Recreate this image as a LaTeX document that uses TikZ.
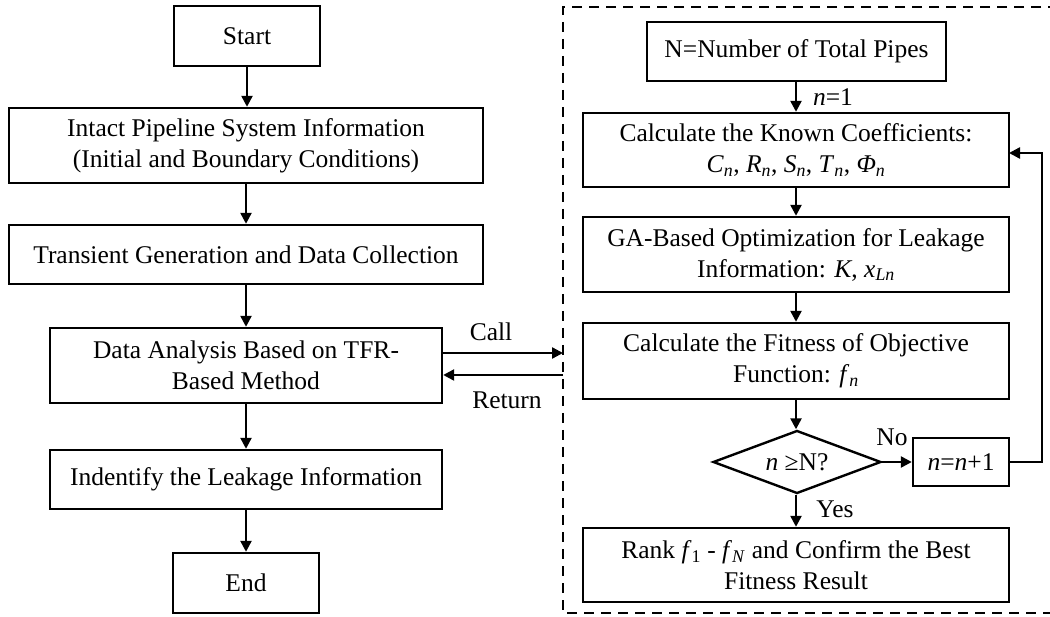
\documentclass[tikz,border=0pt]{standalone}
\usepackage{fontspec}
\setmainfont{Liberation Serif}
\usetikzlibrary{shapes.geometric,arrows.meta}
\newcommand{\subi}[1]{\textsubscript{\textit{#1}}}
\tikzset{
  arr/.style={line width=2.4pt,-{Triangle[length=11pt,width=11pt]}},
  box/.style={draw,line width=2.4pt,rectangle,align=center,inner sep=0pt,
    font=\fontsize{25.5}{31}\selectfont},
  lbl/.style={inner sep=0pt,font=\fontsize{25.5}{31}\selectfont},
  frame/.style={line width=2.6pt,dash pattern=on 10pt off 7pt},
}
\begin{document}
\begin{tikzpicture}[x=1pt,y=-1pt]
\useasboundingbox (0,0) rectangle (1050,617);

% main procedure
\node[box,minimum width=146pt,minimum height=60pt] (start) at (247,36) {Start};
\node[box,minimum width=474pt,minimum height=75pt] (intact) at (246,145.5)
  {Intact Pipeline System Information\\(Initial and Boundary Conditions)};
\node[box,minimum width=474pt,minimum height=59pt] (trans) at (246,254.5)
  {Transient Generation and Data Collection};
\node[box,minimum width=392pt,minimum height=75pt] (data) at (246,365.5)
  {Data Analysis Based on TFR-\\Based Method};
\node[box,minimum width=392pt,minimum height=59pt] (ident) at (246,479.5)
  {Indentify the Leakage Information};
\node[box,minimum width=146pt,minimum height=60pt] (end) at (246,583) {End};

\draw[arr] (start) -- (start |- intact.north);
\draw[arr] (intact) -- (trans);
\draw[arr] (trans) -- (data);
\draw[arr] (data) -- (ident);
\draw[arr] (ident) -- (end |- end.north);

% subroutine frame
\draw[frame] (1058,7) -- (563,7) -- (563,613) -- (1058,613);

% subroutine
\node[box,minimum width=299pt,minimum height=59pt] (npipes) at (796.5,51.5)
  {N=Number of Total Pipes};
\node[box,minimum width=426pt,minimum height=74pt] (calc) at (796,150)
  {Calculate the Known Coefficients:\\
   \textit{C}\subi{n}, \textit{R}\subi{n}, \textit{S}\subi{n}, \textit{T}\subi{n}, \textit{Φ}\subi{n}};
\node[box,minimum width=426pt,minimum height=75pt] (ga) at (796,254.5)
  {GA-Based Optimization for Leakage\\Information: \textit{K}, \textit{x}\subi{Ln}};
\node[box,minimum width=426pt,minimum height=76pt] (fit) at (796,361)
  {Calculate the Fitness of Objective\\Function: \textit{f}\subi{n}};
\node[box,diamond,aspect=2.67,minimum width=168pt,minimum height=63pt] (dia) at (797,462)
  {\textit{n} ≥N?};
\node[box,minimum width=96pt,minimum height=48pt] (inc) at (961,462)
  {\textit{n}=\textit{n}+1};
\node[box,minimum width=426pt,minimum height=74pt] (rank) at (796,565)
  {Rank \textit{f}\textsubscript{1} - \textit{f}\subi{N} and Confirm the Best\\Fitness Result};

\draw[arr] (npipes.south -| calc) -- (calc);
\draw[arr] (calc) -- (ga);
\draw[arr] (ga) -- (fit);
\draw[arr] (fit.south) -- (dia.north -| fit);
\draw[arr] (dia) -- (inc);
\draw[arr] (dia.south -| rank) -- (rank);
\coordinate (loopin) at (1009,153);
\draw[arr] (inc.east) -- ++(32,0) |- (loopin);

\node[lbl] (n1) at (833,97) {\textit{n}=1};
\node[lbl] (no) at (892,437) {No};
\node[lbl] (yes) at (835,509) {Yes};

% call and return between the two parts
\coordinate (callend) at (563,353);
\coordinate (retstart) at (563,375);
\draw[arr] (data.east |- callend) -- (callend);
\draw[arr] (retstart) -- (retstart -| data.east);
\node[lbl] (call) at (491,332) {Call};
\node[lbl] (ret) at (507,400) {Return};
\end{tikzpicture}
\end{document}
